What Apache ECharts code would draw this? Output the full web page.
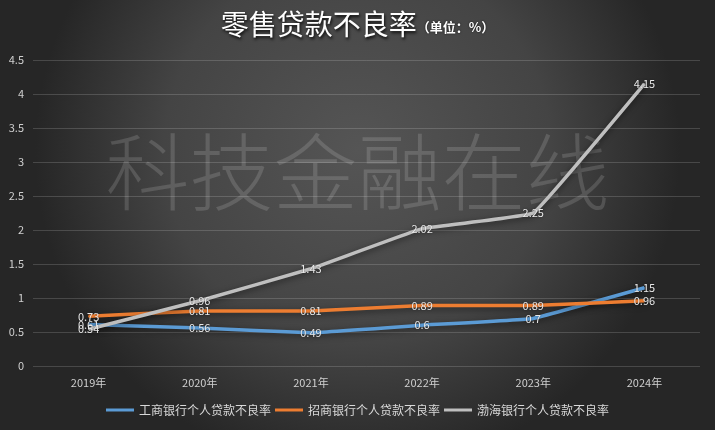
<!DOCTYPE html>
<html><head><meta charset="utf-8">
<script src="https://cdn.jsdelivr.net/npm/echarts@6/dist/echarts.min.js"></script>
<style>html,body{margin:0;padding:0;background:#2a2a2a}#c{width:715px;height:430px}</style>
</head><body><div id="c"></div>
<script>
const categories = ['2019年','2020年','2021年','2022年','2023年','2024年'];
const icbc = [0.61, 0.56, 0.49, 0.6, 0.7, 1.15];
const cmb = [0.73, 0.81, 0.81, 0.89, 0.89, 0.96];
const bohai = [0.54, 0.96, 1.43, 2.02, 2.25, 4.15];
const seriesNames = ['工商银行个人贷款不良率','招商银行个人贷款不良率','渤海银行个人贷款不良率'];
const yTicks = {min:0, max:4.5, interval:0.5};

const chart = echarts.init(document.getElementById('c'));
const font = '"Noto Sans CJK SC", sans-serif';
function mk(name, data, color){
  return {
    name, type:'line', data, smooth:0.06, symbol:'circle', symbolSize:1, showSymbol:true,
    lineStyle:{width:3.5, color, shadowColor:'rgba(0,0,0,0.5)', shadowBlur:6, shadowOffsetY:2},
    itemStyle:{color},
    label:{show:true, position:'inside', color:'#e8e8e8', fontSize:11, fontFamily:font,
      textShadowColor:'rgba(0,0,0,0.4)', textShadowBlur:2},
    labelLayout:{hideOverlap:false},
    z:3
  };
}
chart.setOption({
  backgroundColor:{type:'radial', x:0.5, y:0.35, r:0.75,
    colorStops:[{offset:0,color:'#555555'},{offset:0.6,color:'#444444'},{offset:1,color:'#262626'}]},
  title:{
    text:'{a|零售贷款不良率}{b|（单位：%）}', left:'center', top:5,
    textStyle:{rich:{
      a:{fontSize:28, color:'#ffffff', fontFamily:font, fontWeight:'normal', textShadowColor:'rgba(0,0,0,0.85)', textShadowBlur:3, textShadowOffsetX:1, textShadowOffsetY:2},
      b:{fontSize:13, color:'#ffffff', fontFamily:font, fontWeight:'bold', padding:[7,0,0,0], textShadowColor:'rgba(0,0,0,0.8)', textShadowBlur:2}
    }}
  },
  graphic:[{type:'text', left:'center', top:130, z:0, silent:true,
    style:{text:'科技金融在线', font:'300 84px "Noto Sans CJK SC"', fill:'rgba(255,255,255,0.14)'}}],
  grid:{left:33, right:15, top:60, bottom:64},
  legend:{bottom:9, left:'center', itemWidth:28, itemHeight:3, itemGap:4, icon:'rect',
    textStyle:{color:'#d9d9d9', fontSize:12, fontFamily:font}, data:seriesNames},
  xAxis:{type:'category', data:categories, boundaryGap:true,
    axisLine:{show:false}, axisTick:{show:false},
    axisLabel:{color:'#d0d0d0', fontSize:11, fontFamily:font, margin:11}},
  yAxis:{type:'value', min:yTicks.min, max:yTicks.max, interval:yTicks.interval,
    axisLine:{show:false}, axisTick:{show:false},
    axisLabel:{color:'#d0d0d0', fontSize:11, fontFamily:font, margin:9},
    splitLine:{lineStyle:{color:'rgba(255,255,255,0.16)', width:1}}},
  series:[mk(seriesNames[0], icbc, '#5b9bd5'), mk(seriesNames[1], cmb, '#ed7d31'), mk(seriesNames[2], bohai, '#bfbfbf')]
});
</script></body></html>
